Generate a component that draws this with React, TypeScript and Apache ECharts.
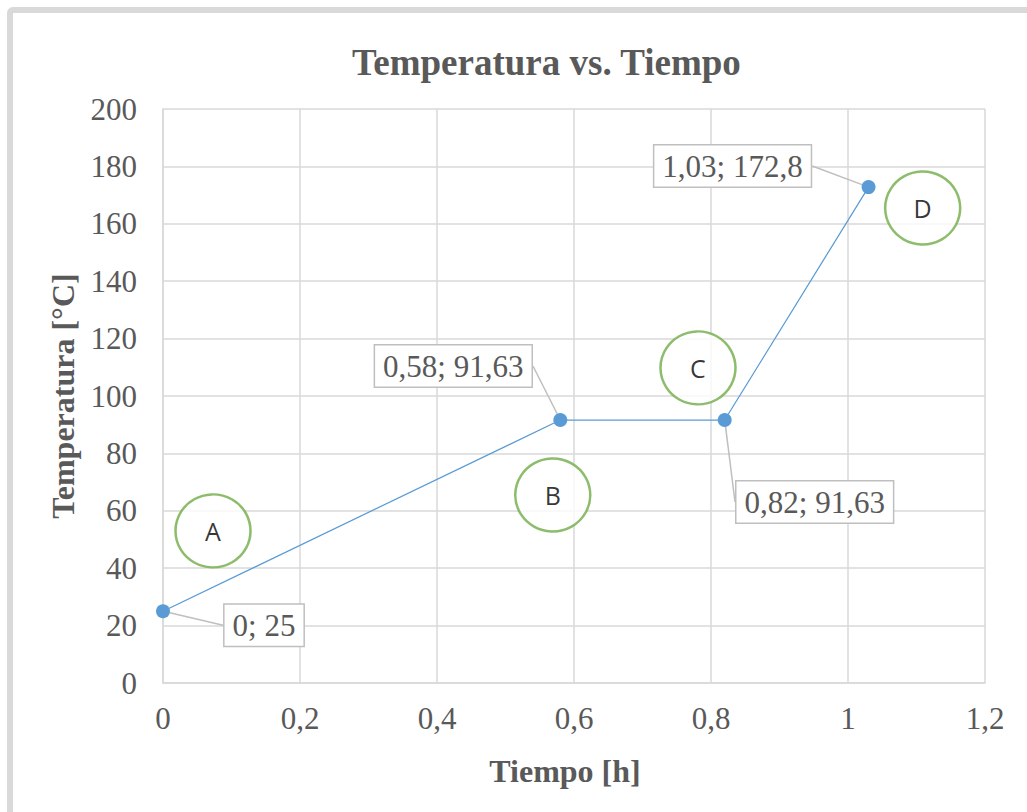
import React, { useEffect, useRef } from "react";
import * as echarts from "echarts";

const timeH = [0, 0.58, 0.82, 1.03];
const tempC = [25, 91.63, 91.63, 172.8];

const zoneNames = ["A", "B", "C", "D"];
const zoneX = [0.073, 0.569, 0.781, 1.109];
const zoneY = [53, 65.5, 109.8, 165.5];

const xTicks = { min: 0, max: 1.2, interval: 0.2 };
const yTicks = { min: 0, max: 200, interval: 20 };

// label callout offsets (layout only)
const calloutOffsets = [
  [101, 14],
  [-107, -54],
  [90, 82],
  [-136, -21],
];

const fmt = (v: number) => String(Math.round(v * 100) / 100).replace(".", ",");

export default function App() {
  const ref = useRef<HTMLDivElement>(null);
  useEffect(() => {
    if (!ref.current) return;
    const chart = echarts.init(ref.current, null, { renderer: "svg" });
    const serif = "'Liberation Serif', 'Times New Roman', serif";
    const textColor = "#595959";
    chart.setOption({
      animation: false,
      backgroundColor: "#ffffff",
      title: {
        text: "Temperatura vs. Tiempo",
        left: 347,
        top: 39,
        textStyle: { fontFamily: serif, fontSize: 37, fontWeight: "bold", color: textColor },
      },
      graphic: [
        {
          type: "rect",
          shape: { x: 10, y: 10, width: 1200, height: 1000, r: 3 },
          style: { fill: "none", stroke: "#d9d9d9", lineWidth: 6 },
          silent: true,
        },
      ],
      grid: { left: 163, right: 42, top: 109, bottom: 129 },
      xAxis: {
        type: "value",
        min: xTicks.min,
        max: xTicks.max,
        interval: xTicks.interval,
        name: "Tiempo [h]",
        nameLocation: "middle",
        nameGap: 72,
        nameTextStyle: {
          fontFamily: serif,
          fontSize: 32,
          fontWeight: "bold",
          color: textColor,
          padding: [0, 18, 0, 0],
        },
        axisLine: { show: true, lineStyle: { color: "#d9d9d9", width: 1.5 } },
        axisTick: { show: false },
        splitLine: { show: true, lineStyle: { color: "#d9d9d9", width: 1.5 } },
        axisLabel: {
          fontFamily: serif,
          fontSize: 31,
          color: textColor,
          margin: 20,
          formatter: (v: number) => fmt(v),
        },
      },
      yAxis: {
        type: "value",
        min: yTicks.min,
        max: yTicks.max,
        interval: yTicks.interval,
        name: "Temperatura [°C]",
        nameLocation: "middle",
        nameGap: 84,
        nameTextStyle: { fontFamily: serif, fontSize: 32, fontWeight: "bold", color: textColor },
        axisLine: { show: true, lineStyle: { color: "#d9d9d9", width: 1.5 } },
        axisTick: { show: false },
        splitLine: { show: true, lineStyle: { color: "#d9d9d9", width: 1.5 } },
        axisLabel: { fontFamily: serif, fontSize: 31, color: textColor, margin: 26 },
      },
      series: [
        {
          type: "scatter",
          data: zoneNames.map((n, i) => ({ name: n, value: [zoneX[i], zoneY[i]] })),
          symbol: "circle",
          symbolSize: [75, 73],
          itemStyle: { color: "#ffffff", borderColor: "#70ad47", borderWidth: 2.5 },
          label: {
            show: true,
            position: "inside",
            formatter: (p: any) => p.name,
            fontFamily: "'Open Sans', 'Liberation Sans', sans-serif",
            fontSize: 25,
            color: "#000000",
          },
          z: 3,
        },
        {
          type: "line",
          data: timeH.map((t, i) => [t, tempC[i]]),
          symbol: "circle",
          symbolSize: 14,
          showSymbol: true,
          lineStyle: { color: "#5b9bd5", width: 1.25 },
          itemStyle: { color: "#5b9bd5" },
          label: {
            show: true,
            position: "inside",
            formatter: (p: any) => `${fmt(p.value[0])}; ${fmt(p.value[1])}`,
            fontFamily: serif,
            fontSize: 31,
            color: textColor,
            backgroundColor: "#ffffff",
            borderColor: "#bfbfbf",
            borderWidth: 1.5,
            padding: [6, 8, 4, 8],
          },
          labelLine: { show: true, lineStyle: { color: "#bfbfbf", width: 1.5 } },
          labelLayout: (p: any) => ({
            dx: calloutOffsets[p.dataIndex][0],
            dy: calloutOffsets[p.dataIndex][1],
          }),
          z: 4,
        },
      ],
    });
    return () => chart.dispose();
  }, []);
  return (
    <div
      ref={ref}
      style={{ position: "fixed", left: 0, top: 0, width: 1027, height: 812, background: "#fff" }}
    />
  );
}
